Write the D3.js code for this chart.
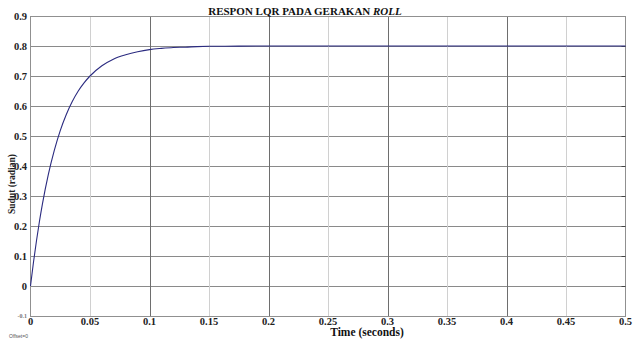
<!DOCTYPE html>
<html>
<head>
<meta charset="utf-8">
<script src="https://cdn.jsdelivr.net/npm/d3@7"></script>
<style>
  html, body { margin: 0; padding: 0; background: #fff; }
  svg { display: block; }
</style>
</head>
<body>
<svg id="chart" width="634" height="343"></svg>
<script>
// Roll response of the LQR controller (step response, radians vs seconds)
const timeValues = [0, 0.0025, 0.005, 0.0075, 0.01, 0.015, 0.02, 0.025, 0.03, 0.035, 0.04, 0.045,
                    0.05, 0.06, 0.07, 0.08, 0.09, 0.1, 0.11, 0.12, 0.13, 0.14, 0.15, 0.175, 0.2, 0.3, 0.4, 0.5];
const rollValues = [0, 0.079, 0.150, 0.215, 0.273, 0.372, 0.452, 0.518, 0.571, 0.614, 0.649, 0.677,
                    0.700, 0.734, 0.757, 0.771, 0.781, 0.788, 0.792, 0.795, 0.796, 0.798, 0.799, 0.7995, 0.8, 0.8, 0.8, 0.8];
const xTicks = [0, 0.05, 0.1, 0.15, 0.2, 0.25, 0.3, 0.35, 0.4, 0.45, 0.5];
const xTickLabels = ["0", "0.05", "0.1", "0.15", "0.2", "0.25", "0.3", "0.35", "0.4", "0.45", "0.5"];
const yTicks = [-0.1, 0, 0.1, 0.2, 0.3, 0.4, 0.5, 0.6, 0.7, 0.8, 0.9];
const yTickLabels = ["-0.1", "0", "0.1", "0.2", "0.3", "0.4", "0.5", "0.6", "0.7", "0.8", "0.9"];

const SERIF = "Liberation Serif";
const svg = d3.select("#chart");
const plot = { left: 30.5, right: 625.5, top: 16, bottom: 316 };

const x = d3.scaleLinear().domain([0, 0.5]).range([plot.left, plot.right]);
const y = d3.scaleLinear().domain([-0.1, 0.9]).range([plot.bottom, plot.top]);

// horizontal grid
svg.append("g").selectAll("line").data(yTicks.slice(1, -1)).join("line")
  .attr("x1", plot.left).attr("x2", plot.right)
  .attr("y1", d => Math.round(y(d)) + 0.5).attr("y2", d => Math.round(y(d)) + 0.5)
  .attr("stroke", "#8a8a8a").attr("stroke-width", 1);

// vertical grid: major lines every 0.1, lighter ones between
svg.append("g").selectAll("line").data(xTicks.slice(1, -1)).join("line")
  .attr("x1", d => Math.round(x(d)) + 0.5).attr("x2", d => Math.round(x(d)) + 0.5)
  .attr("y1", plot.top).attr("y2", plot.bottom)
  .attr("stroke", (d, i) => i % 2 === 1 ? "#6e6e6e" : "#d0d0d0")
  .attr("stroke-width", 1);

// frame
svg.append("rect")
  .attr("x", plot.left).attr("y", plot.top + 0.5)
  .attr("width", plot.right - plot.left).attr("height", plot.bottom - plot.top)
  .attr("fill", "none").attr("stroke", "#909090").attr("stroke-width", 1);

// small tick marks on the right edge
svg.append("g").selectAll("line").data(yTicks.slice(1, -1)).join("line")
  .attr("x1", plot.right - 4).attr("x2", plot.right)
  .attr("y1", d => Math.round(y(d)) + 0.5).attr("y2", d => Math.round(y(d)) + 0.5)
  .attr("stroke", "#444");

// response curve
const line = d3.line().x((d, i) => x(timeValues[i])).y(d => y(d)).curve(d3.curveMonotoneX);
svg.append("path")
  .datum(rollValues)
  .attr("d", line)
  .attr("fill", "none")
  .attr("stroke", "#2b2b80")
  .attr("stroke-width", 1.1);

// y tick labels
svg.append("g").selectAll("text").data(yTicks).join("text")
  .attr("font-family", SERIF).attr("font-weight", "bold")
  .attr("font-size", d => d < 0 ? 6 : 10.5)
  .attr("fill", d => d < 0 ? "#777" : "#222")
  .attr("x", 27)
  .attr("y", d => y(d) + (d < 0 ? 2 : 3.5))
  .attr("text-anchor", "end")
  .text((d, i) => yTickLabels[i]);

// x tick labels
svg.append("g").selectAll("text").data(xTicks).join("text")
  .attr("font-family", SERIF).attr("font-weight", "bold")
  .attr("font-size", 10.5).attr("fill", "#222")
  .attr("x", d => x(d))
  .attr("y", 325)
  .attr("text-anchor", "middle")
  .text((d, i) => xTickLabels[i]);

// title
const title = svg.append("text")
  .attr("x", 305).attr("y", 15)
  .attr("text-anchor", "middle")
  .attr("font-family", SERIF).attr("font-weight", "bold")
  .attr("font-size", 11).attr("fill", "#111");
title.append("tspan").text("RESPON LQR PADA GERAKAN ");
title.append("tspan").attr("font-style", "italic").text("ROLL");

// axis titles
svg.append("text")
  .attr("x", 367).attr("y", 336)
  .attr("text-anchor", "middle")
  .attr("font-family", SERIF).attr("font-weight", "bold")
  .attr("font-size", 11.5).attr("fill", "#111")
  .text("Time (seconds)");

svg.append("text")
  .attr("transform", "translate(15,184) rotate(-90)")
  .attr("text-anchor", "middle")
  .attr("font-family", SERIF).attr("font-weight", "bold")
  .attr("font-size", 9.5).attr("fill", "#222")
  .text("Sudut (radian)");

svg.append("text")
  .attr("x", 9).attr("y", 338)
  .attr("font-family", "Liberation Sans")
  .attr("font-size", 5).attr("fill", "#555")
  .text("Offset=0");
</script>
</body>
</html>
